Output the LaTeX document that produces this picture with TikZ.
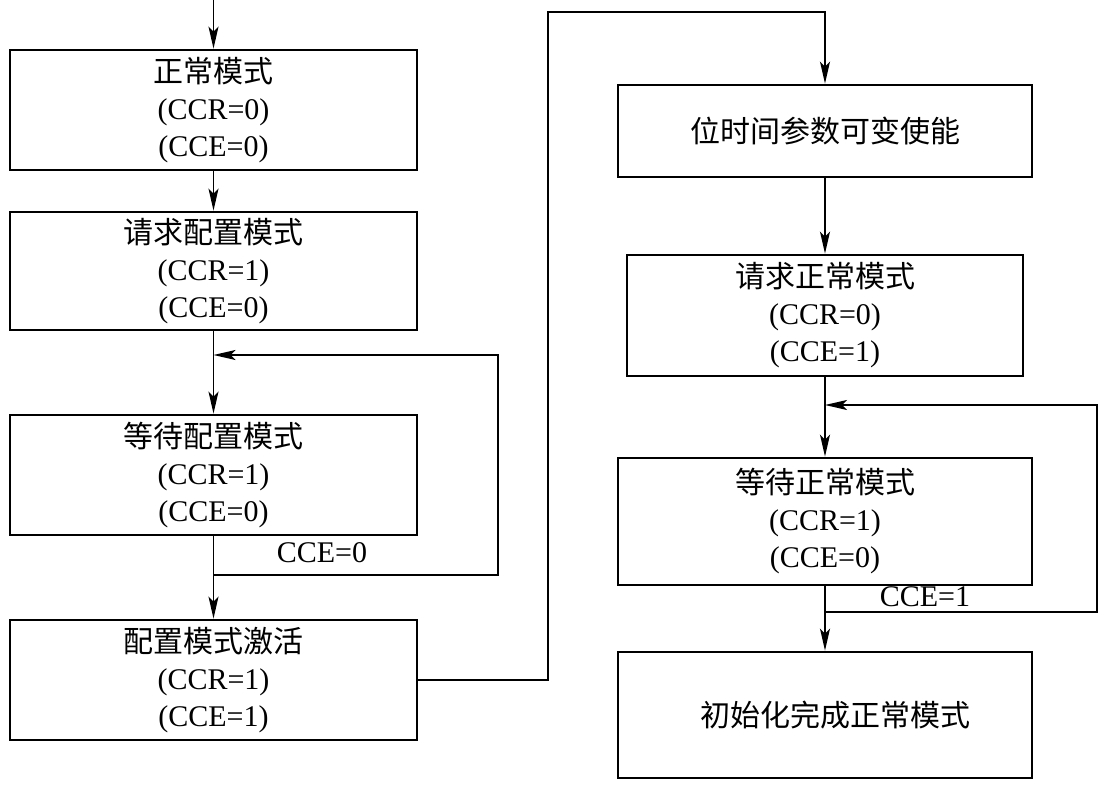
\documentclass[tikz,border=0pt]{standalone}
\usepackage{fontspec}
\setmainfont{Liberation Serif}
\newfontfamily\cjk{Noto Sans CJK SC}
\usetikzlibrary{arrows.meta,positioning}
\tikzstyle{block}=[rectangle,draw,line width=1.4pt,minimum width=203.5pt,
  minimum height=60pt,align=center,inner sep=0pt,
  font=\fontsize{15}{18.5}\selectfont]
\tikzstyle{blockW}=[block,minimum width=207pt]
\tikzstyle{lbl}=[font=\fontsize{15}{18}\selectfont,inner sep=1pt]
\tikzstyle{arrow}=[-{Stealth[length=11pt,width=5pt,inset=2.5pt]},line width=0.9pt]

\begin{document}
\begin{tikzpicture}[x=0.5pt,y=-0.5pt]
  \useasboundingbox (0,0) rectangle (1110,792);

  % left column
  \node[block] (normal) at (213.5,110) {{\cjk 正常模式}\\(CCR=0)\\(CCE=0)};
  \node[block, minimum height=59pt] (reqcfg) at (213.5,271) {{\cjk 请求配置模式}\\(CCR=1)\\(CCE=0)};
  \node[block] (waitcfg) at (213.5,475) {{\cjk 等待配置模式}\\(CCR=1)\\(CCE=0)};
  \node[block] (cfgact) at (213.5,680) {{\cjk 配置模式激活}\\(CCR=1)\\(CCE=1)};

  % right column
  \node[blockW, minimum height=46pt] (bittime) at (825,131) {\cjk 位时间参数可变使能};
  \node[block, minimum width=198pt, minimum height=60.5pt] (reqnorm) at (825,315.5) {{\cjk 请求正常模式}\\(CCR=0)\\(CCE=1)};
  \node[blockW, minimum height=63.5pt] (waitnorm) at (825,521.5) {{\cjk 等待正常模式}\\(CCR=1)\\(CCE=0)};
  \node[blockW, minimum height=63pt] (initdone) at (825,715) {\hspace*{10pt}\cjk 初始化完成正常模式};

  % corner points
  \coordinate (start) at (213.5,0);
  \coordinate (jl) at (213.5,575);
  \coordinate (cl) at (498,355);
  \coordinate (top) at (548,12);
  \coordinate (jr) at (825,612);
  \coordinate (cr) at (1097,405);

  % arrows
  \draw[arrow] (start) -- (normal);
  \draw[arrow] (normal) -- (reqcfg);
  \draw[arrow] (reqcfg) -- (waitcfg);
  \draw[arrow] (waitcfg) -- (cfgact);
  \draw[arrow] (jl) -| (cl) -- (reqcfg.south |- cl);
  \draw[arrow] (cfgact.east) -| (top) -| (bittime.north);
  \draw[arrow] (bittime) -- (reqnorm);
  \draw[arrow] (reqnorm) -- (waitnorm);
  \draw[arrow] (waitnorm) -- (initdone);
  \draw[arrow] (jr) -| (cr) -- (waitnorm.north |- cr);

  % labels
  \node[lbl] (cce0) at (322,553) {CCE=0};
  \node[lbl] (cce1) at (925,597) {CCE=1};

\end{tikzpicture}
\end{document}
